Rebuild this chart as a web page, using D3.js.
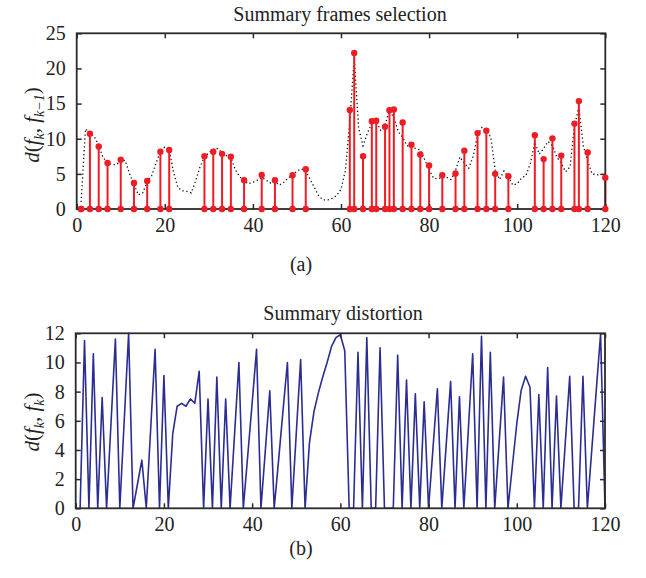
<!DOCTYPE html>
<html><head><meta charset="utf-8">
<script src="https://cdn.jsdelivr.net/npm/d3@7"></script>
<style>
body{margin:0;background:#fff;}
svg text{font-family:"Liberation Serif","Times New Roman",serif;fill:#222;}
</style></head>
<body><svg id="c" width="646" height="578"></svg>
<script>
// ---- data ----
const selFrames = [1,3,5,7,10,13,16,19,21,29,31,33,35,38,42,45,49,52,62,63,65,67,68,70,71,72,74,76,78,80,83,86,88,91,93,95,98,104,106,108,110,113,114,116,120];
const selValues = [0,10.7,8.9,6.55,7.0,3.7,4.0,8.15,8.4,7.5,8.15,7.85,7.45,4.1,4.85,4.1,4.8,5.65,14.1,22.2,7.5,12.5,12.55,11.7,14.05,14.15,12.3,9.15,7.75,6.2,4.8,5.05,8.3,10.8,11.15,5.0,4.65,10.5,7.1,10.05,7.6,12.15,15.35,8.05,4.45];
// dotted curve, frames 1..119
const allDist = [1.0,11.4,10.8,10.3,9.0,7.3,6.6,6.3,6.3,6.9,6.9,5.0,3.5,2.0,2.3,3.9,4.7,6.5,8.2,8.8,
 8.4,5.2,3.0,2.6,2.5,2.3,4.0,6.0,7.4,8.0,8.5,8.6,8.0,7.6,7.3,5.6,4.6,4.0,3.6,3.8,
 4.1,4.5,4.1,3.7,3.9,3.4,3.8,4.4,4.8,5.4,5.7,5.4,4.2,3.0,1.8,1.3,1.3,1.5,1.9,2.8,
 5.5,12.5,21.5,11.5,9.0,10.8,12.2,12.5,11.2,12.0,14.0,13.0,11.0,10.2,9.0,8.9,8.6,8.4,7.0,5.6,
 4.4,4.3,4.5,4.5,4.2,5.5,7.4,6.5,5.8,7.5,10.5,11.6,11.2,10.2,5.5,4.2,5.4,4.6,3.4,3.6,
 4.4,4.8,6.5,9.5,7.8,8.6,9.6,9.0,7.4,6.5,5.3,6.0,11.8,14.5,9.0,6.8,5.0,4.9,4.8];
// summary distortion, frames 1..120
const distortion = [0,11.5,0,10.6,0,7.6,0,5.8,11.6,0,6.0,12.0,0,1.65,3.3,0,5.45,10.9,0,9.1,
 0,5.1,7.0,7.2,7.0,7.5,7.2,9.4,0,7.5,0,9.0,0,7.5,0,5.0,10.0,0,3.6,7.2,
 10.9,0,4.0,8.05,0,3.3,6.7,10.0,0,5.1,10.2,0,4.5,6.6,7.9,9.0,10.0,11.1,11.7,11.9,
 10.8,0,0,10.7,0,11.7,0,0,11.0,0,0,0,10.5,0,8.8,0,7.85,0,7.3,0,
 4.1,8.2,0,4.35,8.7,0,7.65,0,5.3,10.6,0,11.8,0,10.7,0,4.5,9.0,0,2.9,5.8,
 8.1,9.05,8.3,0,7.8,0,9.65,0,7.7,0,4.5,9.05,0,0,9.05,0,4.0,8.0,11.95,0];
const xTicks = [0,20,40,60,80,100,120];
const yTicksA = [0,5,10,15,20,25];
const yTicksB = [0,2,4,6,8,10,12];

const svg = d3.select("#c");
const axisColor = "#2a2a2a";

function frame(g, x, y, xt, yt){
  const [x0,x1] = x.range(), [y0,y1] = y.range();
  const tl = 5;
  const gx = g.append("g").attr("transform",`translate(0,${y0})`)
    .call(d3.axisBottom(x).tickValues(xt).tickSizeInner(-tl).tickSizeOuter(0).tickPadding(9));
  const gxt = g.append("g").attr("transform",`translate(0,${y1})`)
    .call(d3.axisTop(x).tickValues(xt).tickSizeInner(-tl).tickSizeOuter(0).tickFormat(""));
  const gy = g.append("g").attr("transform",`translate(${x0},0)`)
    .call(d3.axisLeft(y).tickValues(yt).tickSizeInner(-tl).tickSizeOuter(0).tickPadding(11));
  const gyr = g.append("g").attr("transform",`translate(${x1},0)`)
    .call(d3.axisRight(y).tickValues(yt).tickSizeInner(-tl).tickSizeOuter(0).tickFormat(""));
  [gx,gxt,gy,gyr].forEach(a=>{
    a.select(".domain").remove();
    a.selectAll("line").attr("stroke",axisColor).attr("stroke-width",1.5);
    a.selectAll("text").attr("font-size",20).attr("font-family","Liberation Serif, serif").attr("fill","#222");
  });
  g.append("rect").attr("x",x0).attr("y",y1).attr("width",x1-x0).attr("height",y0-y1)
    .attr("fill","none").attr("stroke",axisColor).attr("stroke-width",1.8);
}

// ---- chart (a) ----
const xA = d3.scaleLinear().domain([0,120]).range([76.7,605.3]);
const yA = d3.scaleLinear().domain([0,25]).range([209,33.3]);
const gA = svg.append("g");
const line = d3.line().x((d,i)=>xA(i+1)).y(d=>yA(d));
gA.append("path").datum(allDist).attr("d",line).attr("fill","none")
  .attr("stroke","#111").attr("stroke-width",1.3).attr("stroke-dasharray","1.3,2.6");
const red = "#ee1c25";
const stems = selFrames.map((f,i)=>({f,v:selValues[i]}));
gA.selectAll(".stem").data(stems).join("line")
  .attr("x1",d=>xA(d.f)).attr("x2",d=>xA(d.f)).attr("y1",yA(0)).attr("y2",d=>yA(d.v))
  .attr("stroke",red).attr("stroke-width",2);
frame(gA,xA,yA,xTicks,yTicksA);
gA.selectAll(".top").data(stems).join("circle")
  .attr("cx",d=>xA(d.f)).attr("cy",d=>yA(d.v)).attr("r",3.2).attr("fill",red);
gA.selectAll(".bot").data(stems).join("circle")
  .attr("cx",d=>xA(d.f)).attr("cy",yA(0)).attr("r",3.2).attr("fill",red);
svg.append("text").attr("x",340).attr("y",21).attr("text-anchor","middle").attr("font-size",20).text("Summary frames selection");
svg.append("text").attr("x",301).attr("y",271).attr("text-anchor","middle").attr("font-size",20).text("(a)");

function ylabel(cx, cy, parts){
  const t = svg.append("text").attr("transform",`translate(${cx},${cy}) rotate(-90)`)
    .attr("text-anchor","middle").attr("font-size",21);
  parts.forEach(p=>{
    const s = t.append("tspan").text(p.t);
    if(p.i) s.attr("font-style","italic");
    if(p.sub) s.attr("font-size",14).attr("dy",p.dy);
    else if(p.dy) s.attr("dy",p.dy);
  });
}
ylabel(39,125,[{t:"d",i:1},{t:"("},{t:"f",i:1},{t:"k",i:1,sub:1,dy:5},{t:", ",dy:-5},{t:"f",i:1},{t:"k−1",i:1,sub:1,dy:5},{t:")",dy:-5}]);

// ---- chart (b) ----
const xB = d3.scaleLinear().domain([0,120]).range([75.7,605]);
const yB = d3.scaleLinear().domain([0,12]).range([508.3,333.3]);
const gB = svg.append("g");
const lineB = d3.line().x((d,i)=>xB(i+1)).y(d=>yB(d));
gB.append("path").datum(distortion).attr("d",lineB).attr("fill","none")
  .attr("stroke","#2b2d92").attr("stroke-width",1.6).attr("stroke-linejoin","round");
frame(gB,xB,yB,xTicks,yTicksB);
svg.append("text").attr("x",343).attr("y",320).attr("text-anchor","middle").attr("font-size",20).text("Summary distortion");
svg.append("text").attr("x",301).attr("y",555).attr("text-anchor","middle").attr("font-size",20).text("(b)");
ylabel(39,422,[{t:"d",i:1},{t:"("},{t:"f",i:1},{t:"k",i:1,sub:1,dy:5},{t:", ",dy:-5},{t:"f",i:1},{t:"k",i:1,sub:1,dy:5},{t:")",dy:-5}]);
</script></body></html>
